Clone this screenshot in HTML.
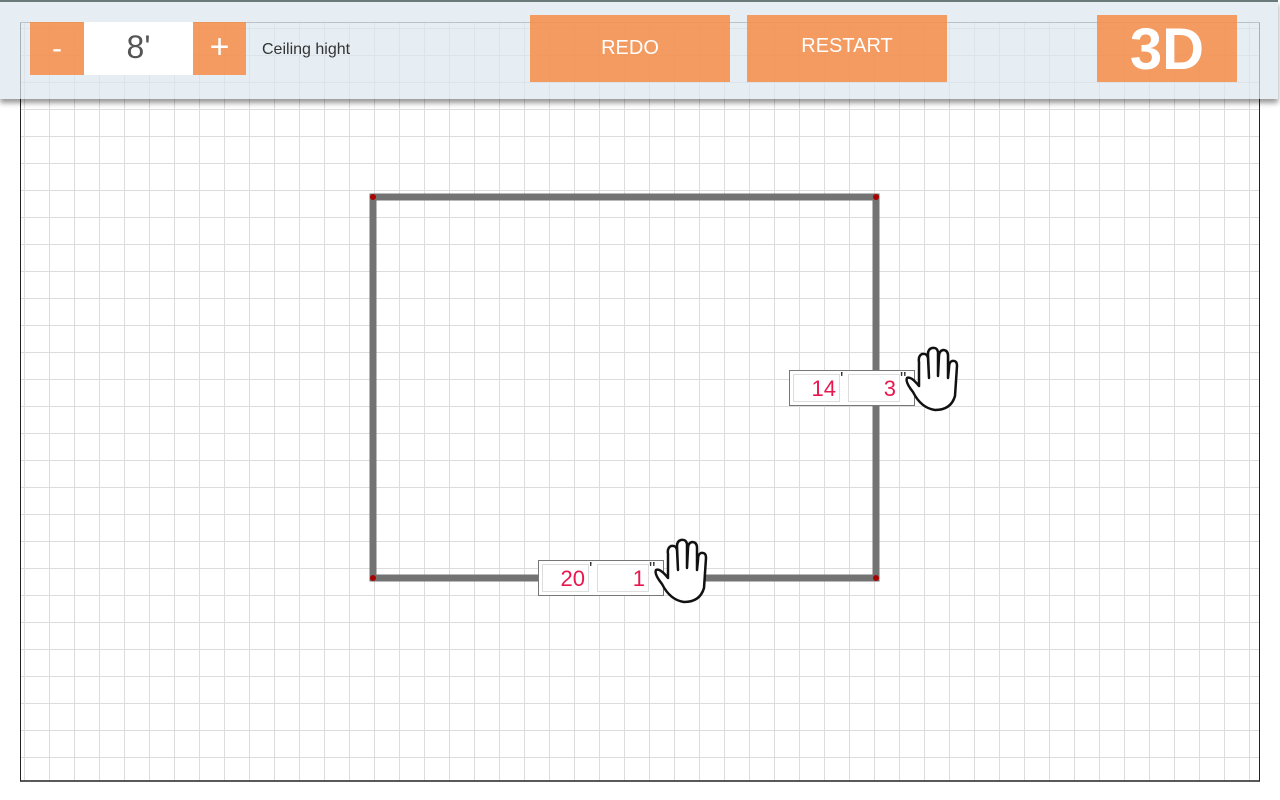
<!DOCTYPE html>
<html><head><meta charset="utf-8"><style>
body{margin:0;width:1280px;height:800px;background:#fff;position:relative;overflow:hidden;font-family:"Liberation Sans",sans-serif}
.hdr{position:absolute;left:0;top:0;width:1278px;height:97px;background:rgba(222,232,238,0.72);border-top:2px solid #6b7a7a;box-shadow:0 4px 5px rgba(0,0,0,0.4)}
.btn{position:absolute;background:rgba(245,140,70,0.85);color:#fff;text-align:center}
.lbl{position:absolute;background:#fff;border:1px solid #777;box-sizing:border-box}
.in{position:absolute;top:3px;height:28px;border:1px solid #ddd;box-sizing:border-box;color:#e8184f;font-size:22px;text-align:right;line-height:27px;padding-right:3px}
.tk{position:absolute;top:-2px;font-size:18px;color:#333}
</style></head><body>
<svg width="1280" height="800" style="position:absolute;left:0;top:0">
<defs><pattern id="g" x="24" y="1" width="25" height="27" patternUnits="userSpaceOnUse">
<path d="M0 0V27M0 0H25" stroke="#dcdcdc" stroke-width="2" fill="none"/></pattern></defs>
<rect x="20" y="22" width="1240" height="759" fill="url(#g)"/>
<line x1="20.5" y1="22" x2="20.5" y2="781" stroke="#222"/>
<line x1="1259.5" y1="22" x2="1259.5" y2="781" stroke="#222"/>
<line x1="20" y1="781" x2="1260" y2="781" stroke="#222" stroke-width="1.5"/>
<line x1="20" y1="22.5" x2="1260" y2="22.5" stroke="#666"/>
<path d="M373 197H876V578H373Z" fill="none" stroke="#737373" stroke-width="7"/>
<circle cx="373" cy="197" r="3" fill="#a00"/><circle cx="876" cy="197" r="3" fill="#a00"/>
<circle cx="373" cy="578" r="3" fill="#a00"/><circle cx="876" cy="578" r="3" fill="#a00"/>
</svg>
<div class="hdr"></div>
<div class="btn" style="left:30px;top:22px;width:54px;height:53px;font-size:30px;line-height:53px">-</div>
<div style="position:absolute;left:84px;top:22px;width:109px;height:53px;background:#fff;color:#555;font-size:32px;text-align:center;line-height:50px">8'</div>
<div class="btn" style="left:193px;top:22px;width:53px;height:53px;font-size:34px;line-height:50px">+</div>
<div style="position:absolute;left:262px;top:41px;font-size:16px;color:#333">Ceiling hight</div>
<div class="btn" style="left:530px;top:15px;width:200px;height:67px;font-size:20px;line-height:66px">REDO</div>
<div class="btn" style="left:747px;top:15px;width:200px;height:67px;font-size:20px;line-height:62px">RESTART</div>
<div class="btn" style="left:1097px;top:15px;width:140px;height:67px;font-size:58px;font-weight:bold;line-height:70px">3D</div>

<div class="lbl" style="left:789px;top:370px;width:126px;height:36px">
<div class="in" style="left:3px;width:47px">14</div><div class="tk" style="left:50px">'</div>
<div class="in" style="left:58px;width:52px">3</div><div class="tk" style="left:110px">"</div></div>
<div class="lbl" style="left:538px;top:560px;width:126px;height:36px">
<div class="in" style="left:3px;width:47px">20</div><div class="tk" style="left:50px">'</div>
<div class="in" style="left:58px;width:52px">1</div><div class="tk" style="left:110px">"</div></div>

<svg width="60" height="70" style="position:absolute;left:905px;top:346px" viewBox="0 0 60 70">
<path d="M14 40 Q6 30 2 32 Q0 36 8 46 Q16 62 30 64 Q46 64 50 50 L52 20 Q52 14 47 15 Q44 16 44 22 L43 32 L43 10 Q43 4 38 4 Q34 5 34 10 L33 30 L33 6 Q32 1 27 2 Q23 3 23 8 L24 32 L23 12 Q22 7 17 8 Q13 10 14 16 Z" fill="#fff" stroke="#111" stroke-width="2.5" stroke-linejoin="round"/></svg>
<svg width="60" height="70" style="position:absolute;left:654px;top:538px" viewBox="0 0 60 70">
<path d="M14 40 Q6 30 2 32 Q0 36 8 46 Q16 62 30 64 Q46 64 50 50 L52 20 Q52 14 47 15 Q44 16 44 22 L43 32 L43 10 Q43 4 38 4 Q34 5 34 10 L33 30 L33 6 Q32 1 27 2 Q23 3 23 8 L24 32 L23 12 Q22 7 17 8 Q13 10 14 16 Z" fill="#fff" stroke="#111" stroke-width="2.5" stroke-linejoin="round"/></svg>
</body></html>
